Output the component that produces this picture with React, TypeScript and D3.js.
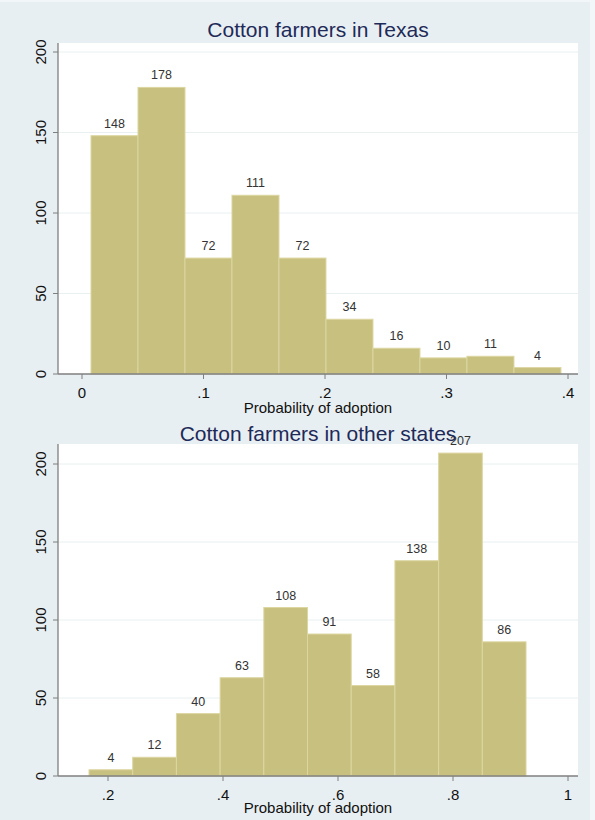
import * as d3 from "d3";
import React from "react";

// histogram counts
const texasCounts = [148, 178, 72, 111, 72, 34, 16, 10, 11, 4];
const texasBinStart = 0.0074;
const texasBinWidth = 0.03868;
const texasXTicks = [0, 0.1, 0.2, 0.3, 0.4];
const texasXLabels = ["0", ".1", ".2", ".3", ".4"];

const otherCounts = [4, 12, 40, 63, 108, 91, 58, 138, 207, 86];
const otherBinStart = 0.167;
const otherBinWidth = 0.076;
const otherXTicks = [0.2, 0.4, 0.6, 0.8, 1];
const otherXLabels = [".2", ".4", ".6", ".8", "1"];

const yTicks = [0, 50, 100, 150, 200];

const FONT = "'Liberation Sans', Arial, sans-serif";
const BAR_FILL = "#c8c07e";
const BAR_EDGE = "#dcd6a2";

interface PanelProps {
  title: string;
  counts: number[];
  binStart: number;
  binWidth: number;
  xTicks: number[];
  xLabels: string[];
  xDomain: [number, number];
  xRange: [number, number];
  yRange: [number, number];
  top: number;
  titleY: number;
  axisTitleY: number;
}

const Panel: React.FC<PanelProps> = (p) => {
  const left = 58,
    right = 578;
  const x = d3.scaleLinear().domain(p.xDomain).range(p.xRange);
  const y = d3.scaleLinear().domain([0, 200]).range(p.yRange);
  const bottom = y(0);

  return (
    <g>
      <rect x={left} y={p.top} width={right - left} height={bottom - p.top} fill="#fff" />
      {yTicks.slice(1).map((t) => (
        <line key={t} x1={left} x2={right} y1={y(t)} y2={y(t)} stroke="#eaf0f2" strokeWidth={1} />
      ))}
      {p.counts.map((c, i) => {
        const x0 = x(p.binStart + i * p.binWidth);
        const x1 = x(p.binStart + (i + 1) * p.binWidth);
        return (
          <g key={i}>
            <rect x={x0} y={y(c)} width={x1 - x0} height={bottom - y(c)} fill={BAR_FILL} stroke={BAR_EDGE} strokeWidth={1} />
            <text x={(x0 + x1) / 2} y={y(c) - 8} textAnchor="middle" fontSize={12.5} fill="#333" fontFamily={FONT}>
              {c}
            </text>
          </g>
        );
      })}
      {/* axes */}
      <line x1={left} x2={left} y1={p.top} y2={bottom} stroke="#7f7f7f" strokeWidth={1.3} />
      <line x1={left} x2={right} y1={bottom} y2={bottom} stroke="#7f7f7f" strokeWidth={1.3} />
      {yTicks.map((t) => (
        <g key={t}>
          <line x1={left - 5} x2={left} y1={y(t)} y2={y(t)} stroke="#7f7f7f" />
          <text
            transform={`translate(${46},${y(t)}) rotate(-90)`}
            textAnchor="middle"
            fontSize={15}
            fill="#111"
            fontFamily={FONT}
          >
            {t}
          </text>
        </g>
      ))}
      {p.xTicks.map((t, i) => (
        <g key={t}>
          <line x1={x(t)} x2={x(t)} y1={bottom} y2={bottom + 5} stroke="#7f7f7f" />
          <text x={x(t)} y={bottom + 24} textAnchor="middle" fontSize={15} fill="#111" fontFamily={FONT}>
            {p.xLabels[i]}
          </text>
        </g>
      ))}
      <text x={(left + right) / 2} y={p.axisTitleY} textAnchor="middle" fontSize={15} fill="#111" fontFamily={FONT}>
        Probability of adoption
      </text>
      <text x={(left + right) / 2} y={p.titleY} textAnchor="middle" fontSize={21} fill="#1e2a58" fontFamily={FONT}>
        {p.title}
      </text>
    </g>
  );
};

const App: React.FC = () => {
  return (
    <svg
      width={595}
      height={820}
      style={{ position: "absolute", left: 0, top: 0 }}
    >
      <rect x={0} y={0} width={595} height={820} fill="#f2f6f8" />
      <rect x={0} y={2} width={590} height={818} fill="#e8eff2" />
      <Panel
        title="Cotton farmers in Texas"
        counts={texasCounts}
        binStart={texasBinStart}
        binWidth={texasBinWidth}
        xTicks={texasXTicks}
        xLabels={texasXLabels}
        xDomain={[0, 0.4]}
        xRange={[82, 568]}
        yRange={[374, 52]}
        top={43}
        titleY={37}
        axisTitleY={413}
      />
      <Panel
        title="Cotton farmers in other states"
        counts={otherCounts}
        binStart={otherBinStart}
        binWidth={otherBinWidth}
        xTicks={otherXTicks}
        xLabels={otherXLabels}
        xDomain={[0.2, 1]}
        xRange={[108, 568]}
        yRange={[776, 464]}
        top={444}
        titleY={441}
        axisTitleY={813}
      />
    </svg>
  );
};

export default App;
